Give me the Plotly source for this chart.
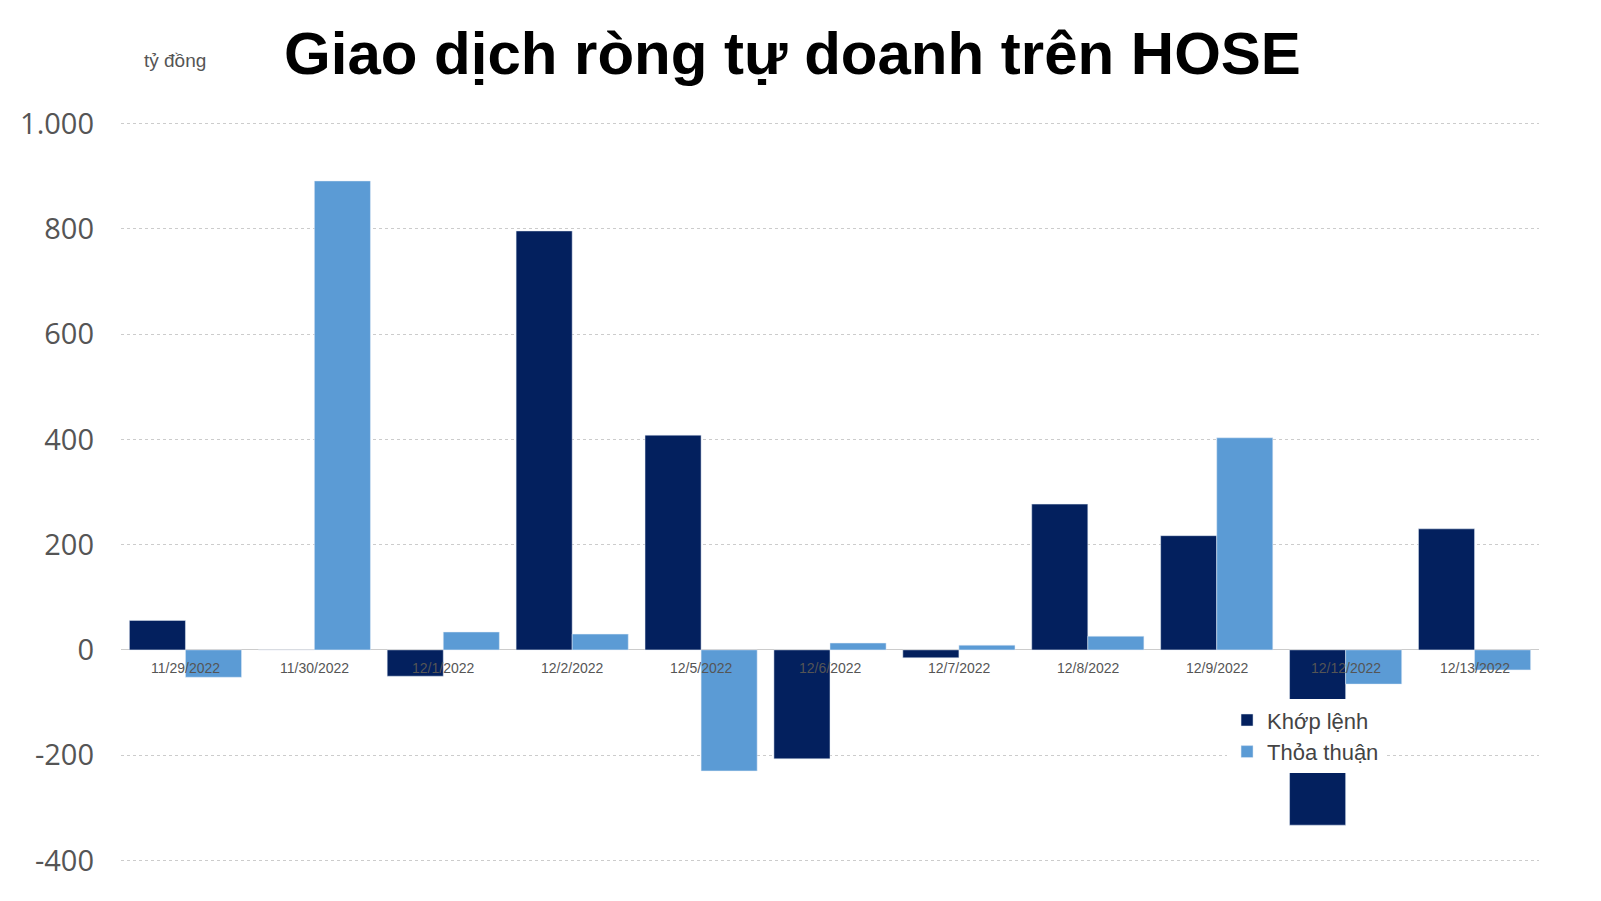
import plotly.graph_objects as go

dates = ["11/29/2022", "11/30/2022", "12/1/2022", "12/2/2022", "12/5/2022", "12/6/2022",
         "12/7/2022", "12/8/2022", "12/9/2022", "12/12/2022", "12/13/2022"]
khop_lenh = [56, 0, -50, 796, 408, -207, -15, 277, 217, -333, 230]
thoa_thuan = [-52, 891, 34, 30, -230, 13, 9, 26, 403, -65, -38]
y_ticks = [-400, -200, 0, 200, 400, 600, 800, 1000]
y_tick_text = ["-400", "-200", "0", "200", "400", "600", "800", "1.000"]

fig = go.Figure()
fig.add_trace(go.Bar(x=dates, y=khop_lenh, name="Khớp lệnh", marker_color="#03205e"))
fig.add_trace(go.Bar(x=dates, y=thoa_thuan, name="Thỏa thuận", marker_color="#5b9bd5"))

# category labels sit on the zero line
for d in dates:
    fig.add_annotation(x=d, y=0, yshift=-18, text=d, showarrow=False,
                       font=dict(size=14, color="#555555", family="Liberation Sans"))

fig.add_annotation(xref="paper", yref="paper", x=0.015, y=1.1, text="tỷ đồng",
                   showarrow=False, font=dict(size=19, color="#555555", family="Liberation Sans"))

fig.update_layout(
    width=1601, height=901,
    paper_bgcolor="white", plot_bgcolor="white",
    title=dict(text="<b>Giao dịch ròng tự doanh trên HOSE</b>", x=0.49, xanchor="center",
               y=0.95, yanchor="middle",
               font=dict(size=60, color="black", family="Liberation Sans")),
    margin=dict(l=98, r=70, t=114, b=47),
    barmode="group", bargap=0.13, bargroupgap=0,
    showlegend=True,
    legend=dict(x=0.78, y=0.22, xanchor="left", yanchor="top", bgcolor="white",
                font=dict(size=22, color="#444444", family="Liberation Sans"),
                itemwidth=30, tracegroupgap=14),
    font=dict(family="Liberation Sans"),
)
fig.update_xaxes(showticklabels=False, showgrid=False, showline=False, zeroline=False)
fig.update_yaxes(range=[-403, 1003], tickvals=y_ticks, ticktext=y_tick_text,
                 showgrid=True, gridcolor="#cccccc", griddash="dot", zeroline=True,
                 zerolinecolor="#cccccc", zerolinewidth=1,
                 tickfont=dict(size=29, color="#555555", family="Open Sans"),
                 ticklabelstandoff=26)

fig.write_html("out.html")
